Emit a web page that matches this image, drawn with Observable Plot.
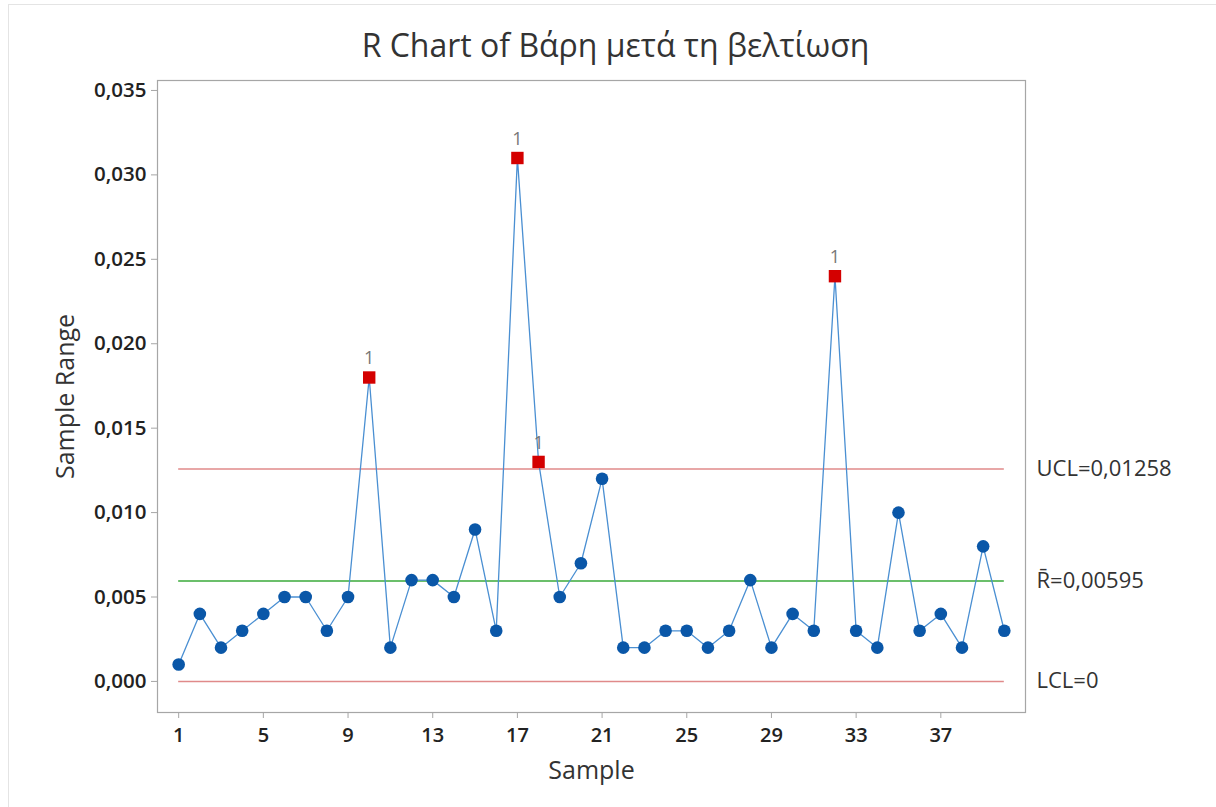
<!DOCTYPE html>
<html>
<head>
<meta charset="utf-8">
<script src="https://cdn.jsdelivr.net/npm/d3@7"></script>
<script src="https://cdn.jsdelivr.net/npm/@observablehq/plot@0.6"></script>
<style>
  html, body { margin: 0; padding: 0; background: #fff; }
  #wrap { position: relative; width: 1216px; height: 807px; }
  #edge { position: absolute; left: 8px; top: 4px; right: 0; bottom: 0; border-top: 1px solid #e4e4e4; border-left: 1px solid #e4e4e4; pointer-events: none; }
</style>
</head>
<body>
<div id="wrap"><div id="edge"></div></div>
<script>
const samples = d3.range(1, 41);
const ranges = [0.001, 0.004, 0.002, 0.003, 0.004, 0.005, 0.005, 0.003, 0.005, 0.018,
                0.002, 0.006, 0.006, 0.005, 0.009, 0.003, 0.031, 0.013, 0.005, 0.007,
                0.012, 0.002, 0.002, 0.003, 0.003, 0.002, 0.003, 0.006, 0.002, 0.004,
                0.003, 0.024, 0.003, 0.002, 0.010, 0.003, 0.004, 0.002, 0.008, 0.003];
const outOfControl = [10, 17, 18, 32];
const UCL = 0.01258, RBAR = 0.00595, LCL = 0;
const xTicks = [1, 5, 9, 13, 17, 21, 25, 29, 33, 37];
const yTicks = [0, 0.005, 0.010, 0.015, 0.020, 0.025, 0.030, 0.035];
const limitLabels = ["UCL=0,01258", "R\u0304=0,00595", "LCL=0"];
const limitValues = [UCL, RBAR, LCL];
const title = "R Chart of Βάρη μετά τη βελτίωση";

const data = samples.map((s, i) => ({sample: s, range: ranges[i], ooc: outOfControl.includes(s)}));
const normal = data.filter(d => !d.ooc);
const flagged = data.filter(d => d.ooc);
const fmt = v => d3.format(".3f")(v).replace(".", ",");
const font = "'Open Sans', 'Noto Sans', sans-serif";

const chart = Plot.plot({
  width: 1216,
  height: 807,
  marginLeft: 157,
  marginRight: 191,
  marginTop: 80,
  marginBottom: 95,
  style: {fontFamily: font, fontSize: "20px", color: "#222", background: "transparent"},
  x: {domain: [0, 41], label: null},
  y: {domain: [-0.00184, 0.03559], label: null},
  marks: [
    Plot.frame({stroke: "#a6a6a6", strokeWidth: 1.2}),
    Plot.axisX({ticks: xTicks, tickSize: 6, tickPadding: 9, tickFormat: d => d, stroke: "#a6a6a6", fill: "#222", fontWeight: 600, fontSize: 20, label: null}),
    Plot.axisY({ticks: yTicks, tickSize: 6, tickPadding: 5, tickFormat: fmt, stroke: "#a6a6a6", fill: "#222", fontWeight: 600, fontSize: 20.5, label: null}),
    Plot.ruleY([UCL], {x1: 1, x2: 40, stroke: "#e08a8a", strokeWidth: 1.6}),
    Plot.ruleY([LCL], {x1: 1, x2: 40, stroke: "#e08a8a", strokeWidth: 1.6}),
    Plot.ruleY([RBAR], {x1: 1, x2: 40, stroke: "#3aaa3a", strokeWidth: 1.6}),
    Plot.line(data, {x: "sample", y: "range", stroke: "#4a8fd2", strokeWidth: 1.3}),
    Plot.dot(normal, {x: "sample", y: "range", r: 6.3, fill: "#0a57a8", stroke: "none"}),
    Plot.dot(flagged, {x: "sample", y: "range", symbol: "square", r: 7, fill: "#d40000", stroke: "none"}),
    Plot.text(flagged, {x: "sample", y: "range", text: () => "1", dy: -19, fill: "#777", fontSize: 18}),
    Plot.text(limitLabels, {x: 41, y: (d, i) => limitValues[i], text: d => d, textAnchor: "start", dx: 11, fill: "#333", fontSize: 22}),
    Plot.text([title], {frameAnchor: "top", dx: 24, dy: -46, fontSize: 32, fill: "#333", fontWeight: 500}),
    Plot.text(["Sample"], {frameAnchor: "bottom", dy: 66, fontSize: 25, fill: "#333", fontWeight: 500}),
    Plot.text(["Sample Range"], {frameAnchor: "left", textAnchor: "middle", dx: -92, rotate: -90, fontSize: 25, fill: "#333", fontWeight: 500})
  ]
});
document.getElementById("wrap").appendChild(chart);
chart.style.position = "absolute";
chart.style.left = "0";
chart.style.top = "0";
</script>
</body>
</html>
